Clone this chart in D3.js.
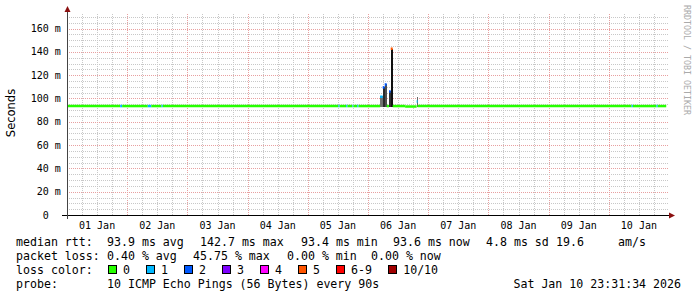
<!DOCTYPE html>
<html><head><meta charset="utf-8">
<script src="https://cdn.jsdelivr.net/npm/d3@7"></script>
<style>
html,body{margin:0;padding:0;background:#fff;}
svg{display:block;}
text{font-family:"DejaVu Sans Mono",monospace;}
</style></head>
<body>
<script>
// ---------- data ----------
const dayLabels = ["01 Jan","02 Jan","03 Jan","04 Jan","05 Jan","06 Jan","07 Jan","08 Jan","09 Jan","10 Jan"];
const yTickValues = [0,20,40,60,80,100,120,140,160];
const yUnit = "m";
const lossLabels = ["0","1","2","3","4","5","6-9","10/10"];
const lossColors = ["#26ff00","#00b8ff","#0059ff","#7e00ff","#ff00ff","#ff5500","#ff0000","#a10000"];

// median rtt: start hour since 01 Jan 00:00, median (ms), loss bucket index
const medHours = [0, 21.2, 22.0, 32.2, 33.6, 37.7, 38.2, 108.2, 108.7, 111.3, 111.8, 113.8, 114.2, 115.7, 116.2,
                  124.84, 125.86, 126.66, 127.46, 128.37, 129.05, 129.85, 134.8, 139.4, 139.8, 225.1, 225.6, 235.0, 235.5];
const medMs    = [93.5, 93.5, 93.5, 93.5, 93.5, 93.5, 93.5, 93.5, 93.5, 93.5, 93.5, 93.5, 93.5, 93.5, 93.5,
                  101.5, 109.5, 112, 93.5, 106, 142.7, 93.5, 93.1, 97.5, 93.5, 93.5, 93.5, 93.5, 93.5];
const medLoss  = [0, 1, 0, 1, 0, 1, 0, 1, 0, 1, 0, 1, 0, 1, 0,
                  1, 2, 2, 0, 2, 5, 0, 0, 1, 0, 1, 0, 1, 0];
const endHour = 238.9;

// smoke (ping spread) around the spike: start/end hour, low/high ms, density 0..1
const smokeStart   = [124.84, 125.86, 126.66, 128.37, 129.05, 139.4];
const smokeEnd     = [125.86, 126.66, 127.46, 129.05, 129.85, 139.8];
const smokeLo      = [92.5, 92.5, 92.5, 92.5, 92.5, 92.5];
const smokeHi      = [102, 110, 112, 106, 142.7, 101];
const smokeDensity = [0.45, 0.85, 0.65, 0.8, 1.0, 0.5];

const legendRows = [
  [["median rtt:",16],["93.9 ms avg",107],["142.7 ms max",200],["93.4 ms min",301],["93.6 ms now",393],["4.8 ms sd",486],["19.6",556],["am/s",618]],
  [["packet loss:",16],["0.40 % avg",107],["45.75 % max",193],["0.00 % min",287],["0.00 % now",371]]
];
const probeText = "10 ICMP Echo Pings (56 Bytes) every 90s";
const stampText = "Sat Jan 10 23:31:34 2026";

// ---------- layout ----------
const W = 697, H = 297;
const L = 67, R = 669, T = 14, B = 215;
const t0 = Date.UTC(2026,0,1);
const hr = h => new Date(t0 + h*3600e3);

const svg = d3.select("body").append("svg").attr("width",W).attr("height",H);
svg.append("defs").append("clipPath").attr("id","plotclip")
  .append("rect").attr("x",L+1).attr("y",T-2).attr("width",R-L-1).attr("height",B-T+2);

const x = d3.scaleUtc().domain([hr(0), hr(240)]).range([L, R]);
const y = d3.scaleLinear().domain([0, 172.5]).range([B, T]);

// grid
const g = svg.append("g").attr("shape-rendering","crispEdges");
x.ticks(d3.utcHour.every(6)).forEach(d => {
  const px = Math.round(x(d)) + 0.5;
  if (px <= L+1 || px >= R) return;
  const major = d.getUTCHours() === 0;
  g.append("line").attr("x1",px).attr("x2",px).attr("y1",T).attr("y2",B)
    .attr("stroke", major ? "#e8a0a0" : "#c8c8c8").attr("stroke-dasharray","1,1");
});
d3.range(5, 172, 5).forEach(v => {
  const py = Math.round(y(v)) + 0.5;
  const major = v % 20 === 0;
  g.append("line").attr("x1",L).attr("x2",R).attr("y1",py).attr("y2",py)
    .attr("stroke", major ? "#e8a0a0" : "#c8c8c8").attr("stroke-dasharray","1,1");
});

const plot = svg.append("g").attr("clip-path","url(#plotclip)");

// smoke
const shade = d3.scaleLinear().domain([0,1]).range(["#c0c0c0","#101010"]);
plot.append("g").attr("shape-rendering","crispEdges").selectAll("rect")
  .data(smokeStart.map((s,i)=>i)).join("rect")
  .attr("x", i => x(hr(smokeStart[i])))
  .attr("width", i => x(hr(smokeEnd[i])) - x(hr(smokeStart[i])))
  .attr("y", i => y(smokeHi[i]))
  .attr("height", i => y(smokeLo[i]) - y(smokeHi[i]))
  .attr("fill", i => shade(smokeDensity[i]));

// median line segments, coloured by loss
medHours.forEach((h,i) => {
  const h2 = i < medHours.length-1 ? medHours[i+1] : endHour;
  const x1 = x(hr(h)), x2 = x(hr(h2));
  plot.append("path").attr("d", `M${x1},${y(medMs[i])}H${x2}`).attr("fill","none")
    .attr("stroke", lossColors[medLoss[i]]).attr("stroke-width", 2.5);
});

// axes
const ax = svg.append("g").attr("shape-rendering","crispEdges");
ax.append("line").attr("x1",62).attr("x2",670).attr("y1",B+0.5).attr("y2",B+0.5).attr("stroke","#000");
ax.append("line").attr("x1",L+0.5).attr("x2",L+0.5).attr("y1",11).attr("y2",219).attr("stroke","#444");
svg.append("path").attr("d",`M${L+0.5},6L${L+3.5},12L${L-2.5},12Z`).attr("fill","#8b1010");
svg.append("path").attr("d",`M675,${B+0.5}L669,${B-2.5}L669,${B+3.5}Z`).attr("fill","#8b1010");

// y tick labels
yTickValues.forEach(v => {
  svg.append("text").attr("x",48.7).attr("y",y(v)+3.6).attr("text-anchor","end")
    .attr("font-size",10).attr("fill","#000").text(v);
  if (v !== 0) svg.append("text").attr("x",54.7).attr("y",y(v)+3.6)
    .attr("font-size",10).attr("fill","#000").text(yUnit);
});

// x tick labels (centred at noon)
dayLabels.forEach((lab,i) => {
  svg.append("text").attr("x", x(hr(i*24+12))).attr("y",228.5).attr("text-anchor","middle")
    .attr("font-size",10).attr("fill","#000").text(lab);
});

// y title
svg.append("text").attr("transform","translate(15,113) rotate(-90)").attr("text-anchor","middle")
  .style("font-family","'DejaVu Sans',sans-serif").attr("font-size",11.5).attr("fill","#000").text("Seconds");

// watermark
svg.append("text").attr("transform","translate(684,5) rotate(90)")
  .attr("font-size",8.3).attr("fill","#aaaaaa").text("RRDTOOL / TOBI OETIKER");

// legend
const LF = 11.6, CW = 7.02;
const rowY = [245.5, 259.5, 273.5, 287.5];
legendRows.forEach((row,ri) => {
  row.forEach(([t,px]) => {
    svg.append("text").attr("x",px).attr("y",rowY[ri]).attr("font-size",LF).attr("fill","#000").text(t);
  });
});
svg.append("text").attr("x",16).attr("y",rowY[2]).attr("font-size",LF).text("loss color:");
let sx = 108;
lossLabels.forEach((lab,i) => {
  svg.append("rect").attr("x",sx+0.5).attr("y",265.5).attr("width",8).attr("height",8)
    .attr("fill",lossColors[i]).attr("stroke","#000").attr("stroke-width",1).attr("shape-rendering","crispEdges");
  svg.append("text").attr("x",sx+15).attr("y",rowY[2]).attr("font-size",LF).text(lab);
  sx = sx + 15 + CW*lab.length + 16;
});
svg.append("text").attr("x",16).attr("y",rowY[3]).attr("font-size",LF).text("probe:");
svg.append("text").attr("x",107).attr("y",rowY[3]).attr("font-size",LF).text(probeText);
svg.append("text").attr("x",681).attr("y",rowY[3]).attr("text-anchor","end").attr("font-size",LF).text(stampText);
</script>
</body></html>
